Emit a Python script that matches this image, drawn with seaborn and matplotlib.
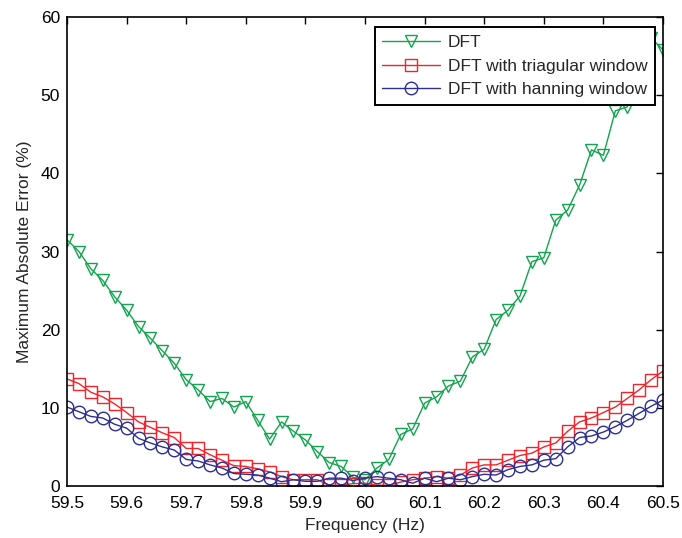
import matplotlib
matplotlib.use("Agg")
import matplotlib.pyplot as plt
import pandas as pd
import seaborn as sns

# ----------------------------------------------------------------------------
# Data
# ----------------------------------------------------------------------------
freq = [59.50, 59.52, 59.54, 59.56, 59.58, 59.60, 59.62, 59.64, 59.66, 59.68,
        59.70, 59.72, 59.74, 59.76, 59.78, 59.80, 59.82, 59.84, 59.86, 59.88,
        59.90, 59.92, 59.94, 59.96, 59.98, 60.00, 60.02, 60.04, 60.06, 60.08,
        60.10, 60.12, 60.14, 60.16, 60.18, 60.20, 60.22, 60.24, 60.26, 60.28,
        60.30, 60.32, 60.34, 60.36, 60.38, 60.40, 60.42, 60.44, 60.46, 60.48,
        60.50]

dft = [31.5, 30.0, 27.8, 26.3, 24.2, 22.5, 20.4, 18.9, 17.3, 15.7,
       13.6, 12.3, 10.8, 11.2, 10.1, 10.8, 8.4, 6.0, 8.2, 7.0,
       5.9, 4.4, 3.0, 2.5, 1.1, 0.8, 2.3, 3.4, 6.6, 7.3,
       10.6, 11.4, 12.8, 13.4, 16.5, 17.5, 21.3, 22.5, 24.3, 28.7,
       29.2, 34.0, 35.3, 38.5, 43.0, 42.3, 48.0, 48.5, 52.5, 57.3,
       55.8]

dft_triangular = [13.7, 13.1, 12.0, 11.4, 10.5, 9.4, 8.2, 7.5, 6.8, 6.2,
                  4.8, 4.8, 4.0, 3.3, 2.6, 2.5, 2.2, 1.8, 1.2, 0.8,
                  0.8, 0.8, 0.1, 0.1, 0.3, 0.35, 0.1, 0.1, 0.5, 0.8,
                  1.0, 1.2, 1.0, 1.4, 2.3, 2.7, 2.7, 3.3, 3.9, 4.2,
                  5.0, 5.5, 7.0, 8.2, 8.7, 9.4, 10.1, 11.2, 12.3, 13.6,
                  14.7]

dft_hanning = [10.1, 9.5, 8.9, 8.7, 7.9, 7.4, 6.1, 5.5, 5.0, 4.6,
               3.4, 3.2, 2.7, 2.3, 1.6, 1.5, 1.4, 1.0, 0.55, 0.8,
               0.6, 0.6, 1.0, 1.0, 0.7, 1.0, 1.2, 1.0, 0.8, 0.35,
               1.0, 0.55, 1.0, 0.8, 1.2, 1.5, 1.4, 2.1, 2.5, 2.7,
               3.3, 3.5, 5.0, 6.2, 6.4, 6.9, 7.6, 8.4, 9.3, 10.2,
               11.0]

x_ticks = [59.5, 59.6, 59.7, 59.8, 59.9, 60.0, 60.1, 60.2, 60.3, 60.4, 60.5]
x_tick_labels = ["59.5", "59.6", "59.7", "59.8", "59.9", "60",
                 "60.1", "60.2", "60.3", "60.4", "60.5"]
y_ticks = [0, 10, 20, 30, 40, 50, 60]

labels = ["DFT", "DFT with triagular window", "DFT with hanning window"]
colors = ["#12a44e", "#f2232b", "#2c2f92"]
markers = ["v", "s", "o"]

# ----------------------------------------------------------------------------
# Plot
# ----------------------------------------------------------------------------
sns.set_style("white")
plt.rcParams["font.family"] = ["Liberation Sans", "DejaVu Sans"]

fig = plt.figure(figsize=(6.82, 5.38), dpi=100)
ax = fig.add_axes([67 / 682, 1 - 486 / 538, 596 / 682, 469 / 538])

df = pd.DataFrame({
    "freq": freq * 3,
    "err": dft + dft_triangular + dft_hanning,
    "series": [labels[0]] * len(freq) + [labels[1]] * len(freq)
              + [labels[2]] * len(freq),
})

for name, color, marker in zip(labels, colors, markers):
    sns.lineplot(
        data=df[df["series"] == name],
        x="freq",
        y="err",
        ax=ax,
        color=color,
        marker=marker,
        markersize=9,
        markerfacecolor="none",
        markeredgecolor=color,
        markeredgewidth=1.0,
        linewidth=1.0,
        label=name,
    )

ax.set_xlim(59.5, 60.5)
ax.set_ylim(0, 60)
ax.set_xticks(x_ticks)
ax.set_xticklabels(x_tick_labels)
ax.set_yticks(y_ticks)
ax.tick_params(direction="in", length=5, width=1, labelsize=12.5,
               top=True, right=True, colors="black")
ax.tick_params(axis="x", pad=7)
ax.tick_params(axis="y", pad=5)
for spine in ax.spines.values():
    spine.set_visible(True)
    spine.set_color("black")
    spine.set_linewidth(1.2)

ax.set_xlabel("Frequency (Hz)", fontsize=12.5, labelpad=5)
ax.set_ylabel("Maximum Absolute Error (%)", fontsize=12.5, labelpad=6)

leg = ax.legend(
    loc="upper right",
    bbox_to_anchor=(0.9866, 0.979),
    fontsize=12.5,
    frameon=True,
    fancybox=False,
    edgecolor="black",
    framealpha=1,
    borderpad=0.45,
    labelspacing=0.5,
    handlelength=3.3,
    handletextpad=0.45,
    borderaxespad=0,
)
leg.get_frame().set_linewidth(1.4)

fig.savefig("out.png", dpi=100)
plt.close(fig)
